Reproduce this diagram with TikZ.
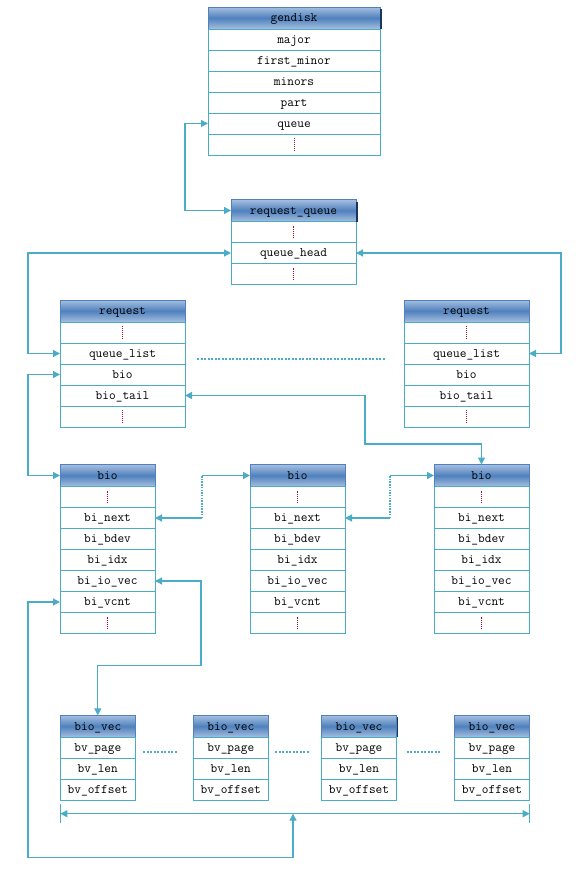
\documentclass[tikz,border=0pt]{standalone}
\usepackage{fontspec}
\usetikzlibrary{arrows.meta,calc}
\definecolor{edge}{HTML}{4BACC6}
\definecolor{hdredge}{HTML}{4F81BD}
\definecolor{hdrmid}{HTML}{4F81BD}
\definecolor{hdrlight}{HTML}{A7BFE0}
\definecolor{dotred}{HTML}{A01018}
\definecolor{navy}{HTML}{17375E}
\newcommand\dts{\tikz[baseline=0pt]\draw[dotred,line width=0.9pt,dash pattern=on 1pt off 1pt] (0pt,-2.5pt)--(0pt,10pt);}
\newcommand\structtab[6]{%
  \node[hdr,minimum width=#4pt,anchor=north west] (#1-0) at (#2,#3) {#5};
  \foreach \r [count=\i] in {#6}{%
    \node[fld,minimum width=#4pt,anchor=north west] (#1-\i) at (#2,{#3+22+21*(\i-1)}) {\r};
  }%
}
\begin{document}
\begin{tikzpicture}[x=1pt,y=-1pt,
  font=\fontsize{13}{15}\selectfont\ttfamily\addfontfeatures{FakeBold=0.5},
  hdr/.style={draw=hdredge,line width=1pt,top color=hdrlight,bottom color=hdrlight,middle color=hdrmid,
    minimum height=22pt,inner sep=0pt,outer sep=0pt,text height=7.5pt,text depth=0pt},
  fld/.style={draw=edge,line width=1pt,fill=white,minimum height=21pt,inner sep=0pt,outer sep=0pt,
    text height=7.5pt,text depth=0pt},
  conn/.style={draw=edge,line width=1.2pt},
  >={Triangle[length=7pt,width=7pt]},
  dotconn/.style={draw=edge,line width=2pt,dash pattern=on 1.5pt off 1.2pt},
  dotline/.style={draw=edge,line width=2pt,dash pattern=on 2pt off 1.5pt},
  shade edge/.style={draw=navy,line width=1.3pt}]
\useasboundingbox (0,0) rectangle (583,878);

% tables
\structtab{gd}{208}{7}{172}{gendisk}{major,first\_minor,minors,part,queue,\dts}
\structtab{rq}{231}{199.5}{125}{request\_queue}{\dts,queue\_head,\dts}
\structtab{rqL}{60}{300}{125}{request}{\dts,queue\_list,bio,bio\_tail,\dts}
\structtab{rqR}{404}{300}{125}{request}{\dts,queue\_list,bio,bio\_tail,\dts}
\structtab{bioL}{60}{464.5}{95}{bio}{\dts,bi\_next,bi\_bdev,bi\_idx,bi\_io\_vec,bi\_vcnt,\dts}
\structtab{bioM}{250}{464.5}{95}{bio}{\dts,bi\_next,bi\_bdev,bi\_idx,bi\_io\_vec,bi\_vcnt,\dts}
\structtab{bioR}{434}{464.5}{95}{bio}{\dts,bi\_next,bi\_bdev,bi\_idx,bi\_io\_vec,bi\_vcnt,\dts}
\structtab{bv1}{60.3}{715.3}{75}{bio\_vec}{bv\_page,bv\_len,bv\_offset}
\structtab{bv2}{193.3}{715.3}{75}{bio\_vec}{bv\_page,bv\_len,bv\_offset}
\structtab{bv3}{321.3}{715.3}{75.4}{bio\_vec}{bv\_page,bv\_len,bv\_offset}
\structtab{bv4}{454.3}{715.3}{75.4}{bio\_vec}{bv\_page,bv\_len,bv\_offset}

% dark right edges on some headers
\draw[shade edge] ([xshift=1pt,yshift=-2pt]gd-0.north east) -- ([xshift=1pt]gd-0.south east);
\draw[shade edge] ([xshift=1pt,yshift=-2pt]rq-0.north east) -- ([xshift=1pt]rq-0.south east);
\draw[shade edge] ([xshift=1pt,yshift=-2pt]bv3-0.north east) -- ([xshift=1pt]bv3-0.south east);

% gendisk.queue <-> request_queue
\draw[conn,<->] (gd-5.west) -- ++(-23,0) |- (rq-0.west);
% request_queue.queue_head <-> request.queue_list
\draw[conn,<->] (rq-2.west) -- ++(-203,0) |- (rqL-2.west);
\draw[conn,<->] (rq-2.east) -- ++(205,0) |- (rqR-2.east);
% request.bio <-> bio
\draw[conn,<->] (rqL-3.west) -- ++(-32,0) |- (bioL-0.west);
% request.bio_tail <-> last bio
\draw[conn,<->] (rqL-4.east) -| (365,444) -| (bioR-0.north);
% bi_next chains
\draw[conn,<-] (bioL-2.east) -- ++(46.5,0) coordinate (k1);
\draw[dotconn] (k1) -- (k1 |- bioM-0.west) coordinate (k2);
\draw[conn,->] (k2) -- (bioM-0.west);
\draw[conn,<-] (bioM-2.east) -- ++(45,0) coordinate (k3);
\draw[dotconn] (k3) -- (k3 |- bioR-0.west) coordinate (k4);
\draw[conn,->] (k4) -- (bioR-0.west);
% bi_io_vec <-> first bio_vec
\draw[conn,<->] (bioL-5.east) -- ++(46,0) |- (150,665.3) -| (bv1-0.north);

% bracket under bio_vecs
\coordinate (bl) at (60.3,813.7);
\coordinate (br) at (529.7,813.7);
\coordinate (bm) at (293,813.7);
\coordinate (bb) at (293,857.7);
\draw[conn,<->] (bl) -- (br);
\draw[draw=edge,line width=1pt] (60.3,804) -- (60.3,822.5);
\draw[draw=edge,line width=1pt] (529.7,804) -- (529.7,822.5);
% bi_vcnt <-> bracket
\draw[conn,<->] (bioL-6.west) -- ++(-32,0) |- (bb) -- (bm);

% ellipsis dotted lines
\draw[dotline] (197,359.3) -- (386,359.3);
\draw[dotline] (143.3,752.3) -- (176.7,752.3);
\draw[dotline] (275,752.3) -- (308.5,752.3);
\draw[dotline] (406.7,752.3) -- (441,752.3);
\end{tikzpicture}
\end{document}
